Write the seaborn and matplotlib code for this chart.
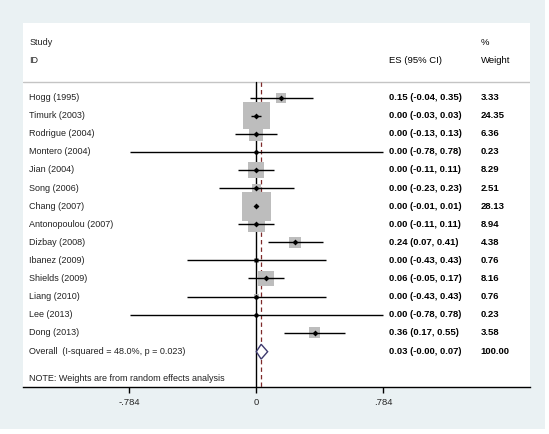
import matplotlib
matplotlib.use("Agg")
import matplotlib.pyplot as plt
import matplotlib.patches as mpatches
import seaborn as sns
import pandas as pd
import numpy as np

# ---- data ----
studies = ["Hogg (1995)", "Timurk (2003)", "Rodrigue (2004)", "Montero (2004)",
           "Jian (2004)", "Song (2006)", "Chang (2007)", "Antonopoulou (2007)",
           "Dizbay (2008)", "Ibanez (2009)", "Shields (2009)", "Liang (2010)",
           "Lee (2013)", "Dong (2013)"]
es = [0.15, 0.00, 0.00, 0.00, 0.00, 0.00, 0.00, 0.00, 0.24, 0.00, 0.06, 0.00, 0.00, 0.36]
ci_lo = [-0.04, -0.03, -0.13, -0.78, -0.11, -0.23, -0.01, -0.11, 0.07, -0.43, -0.05, -0.43, -0.78, 0.17]
ci_hi = [0.35, 0.03, 0.13, 0.78, 0.11, 0.23, 0.01, 0.11, 0.41, 0.43, 0.17, 0.43, 0.78, 0.55]
weights = [3.33, 24.35, 6.36, 0.23, 8.29, 2.51, 28.13, 8.94, 4.38, 0.76, 8.16, 0.76, 0.23, 3.58]

overall_label = "Overall  (I-squared = 48.0%, p = 0.023)"
overall_es = 0.03
overall_lo = -0.00
overall_hi = 0.07
overall_weight = 100.00

xticks = [-0.784, 0, 0.784]
xtick_labels = ["-.784", "0", ".784"]
note = "NOTE: Weights are from random effects analysis"

df = pd.DataFrame({"study": studies, "es": es, "lo": ci_lo, "hi": ci_hi, "w": weights})
df["row"] = np.arange(len(df))

BG = "#EAF1F3"
SQ = "#BDBDBD"
DIAM = "#3E3A6E"
REFL = "#7F2A2A"

sns.set_style("white")
plt.rcParams["font.family"] = ["Liberation Sans", "DejaVu Sans"]

fig = plt.figure(figsize=(5.49, 4.34), dpi=100)
fig.patch.set_facecolor("white")
fig.patches.append(mpatches.Rectangle((0, 5 / 434), 545 / 549, 1 - 5 / 434,
                                      transform=fig.transFigure, facecolor=BG,
                                      edgecolor="none", zorder=-10))
ax = fig.add_axes([22.7 / 549, 1 - 387.3 / 434, (530 - 22.7) / 549, (387.3 - 23) / 434])
ax.set_facecolor("white")

x0, x1 = -1.442, 1.6895
y_top, y_bot = -4.13, 16.02
ax.set_xlim(x0, x1)
ax.set_ylim(y_bot, y_top)

n = len(df)
overall_row = n + 0.05
note_row = 15.56
header_line = -0.87

# header separator
ax.axhline(header_line, color="#C4C4C4", lw=1.0)

# reference lines
ax.plot([0, 0], [header_line, y_bot], color="black", lw=1.0, zorder=2)
ax.plot([overall_es, overall_es], [header_line, y_bot], color=REFL, lw=0.9,
        ls=(0, (3.5, 2.5)), zorder=2)

# weight squares
ax.scatter(df["es"], df["row"], s=df["w"] * 15.7, marker="s", color=SQ,
           linewidths=0, zorder=3)
# confidence intervals
ax.hlines(df["row"], df["lo"], df["hi"], color="black", lw=1.0, zorder=4)
# point estimates
sns.scatterplot(data=df, x="es", y="row", ax=ax, marker="D", s=9, color="black",
                linewidth=0, zorder=5, legend=False)

# overall diamond
h = 0.41
diamond = np.array([[overall_lo, overall_row], [overall_es, overall_row - h],
                    [overall_hi, overall_row], [overall_es, overall_row + h]])
ax.add_patch(mpatches.Polygon(diamond, closed=True, facecolor="white",
                              edgecolor=DIAM, lw=1.0, zorder=5))

# text columns
fs = 6.8
fs_id = 6.5
x_study, x_es, x_w = -1.401, 0.821, 1.385
ax.text(x_study, -3.06, "Study", fontsize=fs_id, va="center", color="#222222")
ax.text(x_study, -2.07, "ID", fontsize=fs_id, va="center", color="#222222")
ax.text(x_es, -2.07, "ES (95% CI)", fontsize=fs, va="center", color="black")
ax.text(x_w, -3.06, "%", fontsize=fs, va="center", color="black")
ax.text(x_w, -2.07, "Weight", fontsize=fs, va="center", color="black")

for _, r in df.iterrows():
    ax.text(x_study, r["row"], r["study"], fontsize=fs_id, va="center", color="#222222")
    ax.text(x_es, r["row"], f"{r['es']:.2f} ({r['lo']:.2f}, {r['hi']:.2f})",
            fontsize=fs, va="center", color="black", fontweight="bold")
    ax.text(x_w, r["row"], f"{r['w']:.2f}", fontsize=fs, va="center",
            color="black", fontweight="bold")

ax.text(x_study, overall_row, overall_label, fontsize=fs_id, va="center", color="#222222")
ax.text(x_es, overall_row, f"{overall_es:.2f} ({overall_lo:.2f}, {overall_hi:.2f})",
        fontsize=fs, va="center", color="black", fontweight="bold")
ax.text(x_w, overall_row, f"{overall_weight:.2f}", fontsize=fs, va="center",
        color="black", fontweight="bold")
ax.text(x_study, note_row, note, fontsize=fs_id, va="center", color="#222222")

# axis styling
for side in ["top", "left", "right"]:
    ax.spines[side].set_visible(False)
ax.spines["bottom"].set_color("black")
ax.spines["bottom"].set_linewidth(1.0)
ax.set_yticks([])
ax.set_xticks(xticks)
ax.set_xticklabels(xtick_labels, fontsize=fs)
ax.tick_params(axis="x", direction="out", length=4, width=1.0, color="black",
               pad=4, bottom=True)
ax.set_xlabel("")
ax.set_ylabel("")

fig.savefig("out.png", dpi=100, facecolor=fig.get_facecolor())
